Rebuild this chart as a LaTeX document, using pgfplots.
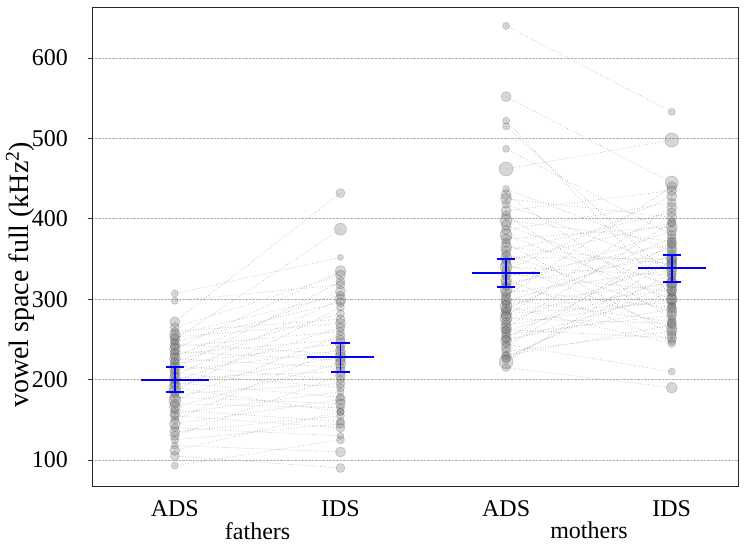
\documentclass[border=0pt]{standalone}
\usepackage{pgfplots}
\pgfplotsset{compat=1.18}
\usepackage{pgfplotstable}
\usepackage{fontspec}
\setmainfont{Liberation Serif}

% long format: each pair (ADS at x=1, IDS at x=2), then a break row
\pgfplotstableread{
x y s
1 93 3.5
2 125 4
nan nan 1
1 105 4.5
2 90 4.5
nan nan 1
1 112 5
2 160 4
nan nan 1
1 118 3.5
2 110 5
nan nan 1
1 125 4
2 145 4.5
nan nan 1
1 130 4.5
2 205 5
nan nan 1
1 135 5
2 155 4
nan nan 1
1 140 4
2 130 3.5
nan nan 1
1 145 5.5
2 175 5
nan nan 1
1 150 4
2 240 4
nan nan 1
1 155 4.5
2 140 4.5
nan nan 1
1 158 5
2 185 3.5
nan nan 1
1 162 4
2 148 4
nan nan 1
1 166 5.5
2 220 5.5
nan nan 1
1 170 4.5
2 165 4
nan nan 1
1 174 6
2 255 4.5
nan nan 1
1 178 5
2 170 5
nan nan 1
1 182 4
2 195 4.5
nan nan 1
1 186 5.5
2 290 4
nan nan 1
1 190 6
2 160 3.5
nan nan 1
1 193 4.5
2 228 5.5
nan nan 1
1 196 5
2 178 4
nan nan 1
1 199 4
2 265 4.5
nan nan 1
1 202 5.5
2 210 5
nan nan 1
1 205 4.5
2 300 5.5
nan nan 1
1 208 5
2 190 4
nan nan 1
1 211 4
2 236 5
nan nan 1
1 214 5.5
2 322 4.5
nan nan 1
1 217 4.5
2 200 4
nan nan 1
1 220 5
2 245 5.5
nan nan 1
1 223 4
2 282 4
nan nan 1
1 226 5.5
2 215 4.5
nan nan 1
1 229 4.5
2 310 5
nan nan 1
1 232 5
2 250 4.5
nan nan 1
1 235 4
2 224 5
nan nan 1
1 238 5.5
2 335 5.5
nan nan 1
1 241 4.5
2 260 4
nan nan 1
1 244 5
2 232 5
nan nan 1
1 247 4
2 296 4.5
nan nan 1
1 250 5
2 387 6
nan nan 1
1 253 4.5
2 270 5
nan nan 1
1 256 5.5
2 305 4
nan nan 1
1 260 4
2 275 4.5
nan nan 1
1 265 4.5
2 330 5
nan nan 1
1 272 5
2 432 4.5
nan nan 1
1 298 3.5
2 318 4.5
nan nan 1
1 307 3.5
2 352 3
nan nan 1
}\fathers

\pgfplotstableread{
x y s
3 640 3.5
4 533 3.5
nan nan 1
3 552 5
4 445 6.5
nan nan 1
3 522 3.5
4 304 4.5
nan nan 1
3 515 3.5
4 328 4
nan nan 1
3 487 3.5
4 380 4.5
nan nan 1
3 462 7
4 498 7
nan nan 1
3 437 3.5
4 360 5
nan nan 1
3 430 5
4 292 4
nan nan 1
3 425 5.5
4 402 5
nan nan 1
3 418 4
4 340 5.5
nan nan 1
3 410 5
4 435 5
nan nan 1
3 404 4.5
4 276 4
nan nan 1
3 398 6
4 372 4.5
nan nan 1
3 392 5
4 316 5
nan nan 1
3 386 4.5
4 420 4.5
nan nan 1
3 380 6
4 300 5
nan nan 1
3 375 5
4 390 5.5
nan nan 1
3 370 4.5
4 256 4.5
nan nan 1
3 365 5.5
4 344 5
nan nan 1
3 360 5
4 408 4.5
nan nan 1
3 356 4
4 284 5
nan nan 1
3 352 5.5
4 350 5
nan nan 1
3 348 4.5
4 395 4
nan nan 1
3 344 5
4 264 5.5
nan nan 1
3 340 6
4 330 4.5
nan nan 1
3 336 4.5
4 428 5
nan nan 1
3 332 5
4 310 5
nan nan 1
3 328 4
4 368 4.5
nan nan 1
3 324 5.5
4 248 4
nan nan 1
3 320 5
4 352 5.5
nan nan 1
3 316 4.5
4 385 5
nan nan 1
3 312 6
4 290 4.5
nan nan 1
3 308 5
4 336 5
nan nan 1
3 304 4.5
4 440 5
nan nan 1
3 300 5.5
4 272 4.5
nan nan 1
3 297 5
4 364 5
nan nan 1
3 294 4
4 320 5.5
nan nan 1
3 291 6
4 245 4
nan nan 1
3 288 5
4 376 4.5
nan nan 1
3 285 4.5
4 312 5
nan nan 1
3 282 5.5
4 296 4.5
nan nan 1
3 279 5
4 414 5
nan nan 1
3 276 6
4 270 4.5
nan nan 1
3 272 4.5
4 345 5
nan nan 1
3 268 5
4 300 5.5
nan nan 1
3 264 5.5
4 396 4.5
nan nan 1
3 262 4
4 252 5
nan nan 1
3 260 5
4 324 4.5
nan nan 1
3 256 4.5
4 280 5
nan nan 1
3 252 5
4 356 4.5
nan nan 1
3 250 4
4 288 5
nan nan 1
3 248 5.5
4 308 4
nan nan 1
3 244 4
4 210 3.5
nan nan 1
3 240 5
4 370 5
nan nan 1
3 235 4.5
4 260 5
nan nan 1
3 230 4
4 268 4.5
nan nan 1
3 228 5
4 320 5
nan nan 1
3 225 4
4 332 4.5
nan nan 1
3 222 7
4 348 5
nan nan 1
3 215 4
4 190 5.5
nan nan 1
}\mothers

% means (horizontal bars, half width 0.205)
\pgfplotstableread{
x y
0.795 199.3
1.205 199.3
nan nan
1.795 227.7
2.205 227.7
nan nan
2.795 332.6
3.205 332.6
nan nan
3.795 338.4
4.205 338.4
nan nan
}\meanlines

% 95% CI whiskers with caps
\pgfplotstableread{
x y
1 184.6
1 215.7
nan nan
0.945 184.6
1.055 184.6
nan nan
0.945 215.7
1.055 215.7
nan nan
2 209.0
2 245.9
nan nan
1.945 209.0
2.055 209.0
nan nan
1.945 245.9
2.055 245.9
nan nan
3 315.0
3 350.0
nan nan
2.945 315.0
3.055 315.0
nan nan
2.945 350.0
3.055 350.0
nan nan
4 321.0
4 355.0
nan nan
3.945 321.0
4.055 321.0
nan nan
3.945 355.0
4.055 355.0
nan nan
}\cis

\begin{document}
\begin{tikzpicture}[font=\fontsize{24}{28}\selectfont]
\begin{axis}[
  set layers,
  at={(0,0)}, anchor=south west,
  scale only axis, width=646pt, height=479pt,
  xmin=0.5, xmax=4.4, ymin=66.4, ymax=662.2,
  xtick={1,2,3,4}, xticklabels={ADS,IDS,ADS,IDS},
  ytick={100,200,...,600},
  ytick pos=left,
  ymajorgrids,
  grid style={black!30, densely dotted, line width=0.6pt},
  tick align=outside, major tick length=4pt,
  xtick style={draw=none},
  ytick style={black!80, line width=0.8pt},
  axis line style={black!85, line width=1pt},
  /pgf/number format/assume math mode=true,
  tick label style={font=\fontsize{24}{28}\selectfont},
  yticklabel style={inner sep=0pt, xshift=-20pt},
  xticklabel style={inner sep=0pt, anchor=north, yshift=-9pt},
  clip mode=individual,
]
% pair lines
\addplot[black!30, dotted, line width=0.65pt, unbounded coords=jump, forget plot]
  table[x=x, y=y] {\fathers};
\addplot[black!30, dotted, line width=0.65pt, unbounded coords=jump, forget plot]
  table[x=x, y=y] {\mothers};
% points
\addplot[scatter, only marks, mark=*,
  scatter/use mapped color={draw=black!70, fill=black!60},
  mark options={fill opacity=0.26, draw opacity=0.28, line width=0.6pt},
  visualization depends on={\thisrow{s} \as \msz},
  scatter/@pre marker code/.append style={/tikz/mark size=\msz pt},
  forget plot]
  table[x=x, y=y] {\fathers};
\addplot[scatter, only marks, mark=*,
  scatter/use mapped color={draw=black!70, fill=black!60},
  mark options={fill opacity=0.26, draw opacity=0.28, line width=0.6pt},
  visualization depends on={\thisrow{s} \as \msz},
  scatter/@pre marker code/.append style={/tikz/mark size=\msz pt},
  forget plot]
  table[x=x, y=y] {\mothers};
% means and confidence intervals
\addplot[blue, solid, line width=1.8pt, mark=none, unbounded coords=jump, forget plot]
  table[x=x, y=y] {\meanlines};
\addplot[blue, solid, line width=1.8pt, mark=none, unbounded coords=jump, forget plot]
  table[x=x, y=y] {\cis};
% group labels and y label
\node[anchor=north, inner sep=0pt, yshift=-35pt] at (axis cs:1.5,66.4) {fathers};
\node[anchor=north, inner sep=0pt, yshift=-35pt] at (axis cs:3.5,66.4) {mothers};
\node[rotate=90, anchor=center, inner sep=0pt, font=\fontsize{28}{32}\selectfont] at ([xshift=-72pt]rel axis cs:0,0.443) {vowel space full (kHz\textsuperscript{2})};
\end{axis}
\path[use as bounding box] (-92pt,-58pt) rectangle (654pt,487pt);
\end{tikzpicture}
\end{document}
